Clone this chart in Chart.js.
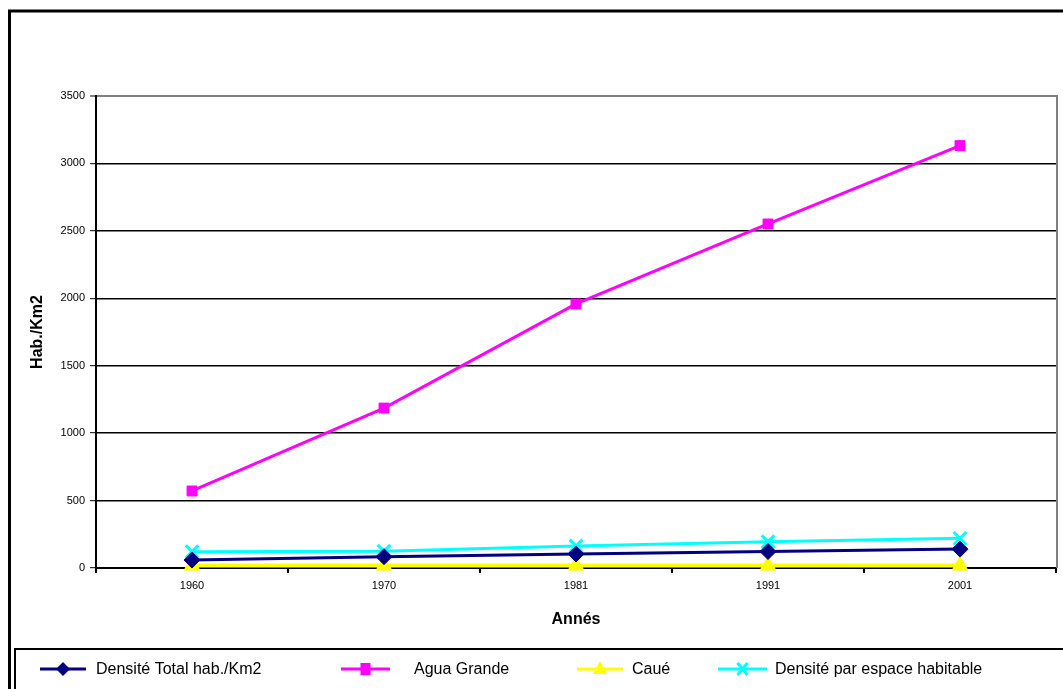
<!DOCTYPE html>
<html>
<head>
<meta charset="utf-8">
<script src="https://cdn.jsdelivr.net/npm/chart.js@4.4.1/dist/chart.umd.min.js"></script>
<style>
  html, body { margin: 0; padding: 0; background: #fff; }
  #wrap { width: 1063px; height: 689px; position: relative; }
</style>
</head>
<body>
<div id="wrap"><canvas id="c" width="1063" height="689"></canvas></div>
<script>
const years = ['1960', '1970', '1981', '1991', '2001'];
const densiteTotal = [59, 84, 104, 122, 140];
const aguaGrande = [571, 1186, 1958, 2551, 3132];
const caue = [18, 18, 18, 18, 18];
const densiteHabitable = [121, 124, 163, 195, 220];
const yTicks = [0, 500, 1000, 1500, 2000, 2500, 3000, 3500];

const FONT = '"Liberation Sans", Arial, sans-serif';

const framePlugin = {
  id: 'frame',
  beforeDraw(chart) {
    const ctx = chart.ctx;
    ctx.save();
    ctx.fillStyle = '#fff';
    ctx.fillRect(0, 0, chart.width, chart.height);
    ctx.strokeStyle = '#000';
    ctx.lineWidth = 3;
    ctx.strokeRect(9.5, 11, chart.width + 20, chart.height + 20);
    ctx.restore();
  },
  afterDraw(chart) {
    const ctx = chart.ctx;
    const a = chart.chartArea;
    ctx.save();
    ctx.strokeStyle = '#808080';
    ctx.lineWidth = 2;
    ctx.beginPath();
    ctx.moveTo(a.right + 1, a.top - 1);
    ctx.lineTo(a.right + 1, a.bottom);
    ctx.stroke();
    ctx.strokeStyle = '#000';
    ctx.lineWidth = 2;
    ctx.strokeRect(15, 649, chart.width + 20, 60);
    const items = [
      { line: [40, 86], text: 96 },
      { line: [341, 390], text: 414 },
      { line: [577, 623], text: 632 },
      { line: [718, 767], text: 775 }
    ];
    const ly = 669;
    chart.data.datasets.forEach((ds, i) => {
      const it = items[i];
      ctx.strokeStyle = ds.borderColor;
      ctx.lineWidth = 3;
      ctx.beginPath();
      ctx.moveTo(it.line[0], ly);
      ctx.lineTo(it.line[1], ly);
      ctx.stroke();
      const cx = (it.line[0] + it.line[1]) / 2;
      ctx.fillStyle = ds.pointBackgroundColor;
      ctx.strokeStyle = ds.pointBorderColor;
      ctx.lineWidth = 2;
      const st = ds.pointStyle;
      if (st === 'rectRot') {
        ctx.beginPath();
        ctx.moveTo(cx, ly - 7); ctx.lineTo(cx + 7, ly); ctx.lineTo(cx, ly + 7); ctx.lineTo(cx - 7, ly); ctx.closePath();
        ctx.fill();
      } else if (st === 'rect') {
        ctx.fillRect(cx - 5, ly - 6, 10, 12);
      } else if (st === 'triangle') {
        ctx.beginPath();
        ctx.moveTo(cx, ly - 8); ctx.lineTo(cx + 7, ly + 5); ctx.lineTo(cx - 7, ly + 5); ctx.closePath();
        ctx.fill();
      } else if (st === 'crossRot') {
        ctx.lineWidth = 3;
        ctx.beginPath();
        ctx.moveTo(cx - 5, ly - 6); ctx.lineTo(cx + 5, ly + 6);
        ctx.moveTo(cx + 5, ly - 6); ctx.lineTo(cx - 5, ly + 6);
        ctx.stroke();
      }
      ctx.fillStyle = '#000';
      ctx.font = '16px ' + FONT;
      ctx.textBaseline = 'middle';
      ctx.textAlign = 'left';
      ctx.fillText(ds.label, it.text, ly + 1);
    });
    ctx.restore();
  }
};

const mk = (label, data, color, style, radius, extra) => Object.assign({
  label, data,
  borderColor: color,
  backgroundColor: color,
  pointBackgroundColor: color,
  pointBorderColor: color,
  pointStyle: style,
  pointRadius: radius,
  pointHoverRadius: radius,
  borderWidth: 3,
  pointBorderWidth: 1,
  tension: 0,
  fill: false,
  clip: false
}, extra || {});

new Chart(document.getElementById('c'), {
  type: 'line',
  data: {
    labels: years,
    datasets: [
      mk('Densité Total hab./Km2', densiteTotal, '#000080', 'rectRot', 8),
      mk('Agua Grande', aguaGrande, '#FF00FF', 'rect', 7),
      mk('Caué', caue, '#FFFF00', 'triangle', 9, { borderWidth: 4 }),
      mk('Densité par espace habitable', densiteHabitable, '#00FFFF', 'crossRot', 9, { pointBorderWidth: 3 })
    ]
  },
  plugins: [framePlugin],
  options: {
    responsive: false,
    animation: false,
    events: [],
    layout: { autoPadding: false, padding: { left: 0, top: 96, right: 7, bottom: 57 } },
    plugins: {
      legend: { display: false },
      tooltip: { enabled: false },
      title: { display: false }
    },
    scales: {
      x: {
        type: 'category',
        offset: true,
        afterFit(s) { s.height = 64; },
        grid: { display: true, drawOnChartArea: false, offset: true, tickLength: 5, color: '#000', lineWidth: 2 },
        border: { display: true, color: '#000', width: 2 },
        ticks: { color: '#000', font: { family: FONT, size: 11 }, padding: 6, maxRotation: 0 },
        title: { display: true, text: 'Annés', color: '#000', font: { family: FONT, size: 16, weight: 'bold' }, padding: { top: 0, bottom: 3 } }
      },
      y: {
        min: 0,
        max: 3500,
        afterFit(s) { s.width = 96; },
        afterBuildTicks(s) { s.ticks = yTicks.map(v => ({ value: v })); },
        grid: {
          color: ctx => (ctx.tick && ctx.tick.value === 3500) ? '#808080' : '#000',
          lineWidth: ctx => (ctx.tick && ctx.tick.value === 3500) ? 2 : 1.4,
          tickColor: '#000',
          tickLength: 6,
          tickWidth: 1
        },
        border: { display: true, color: '#000', width: 2 },
        ticks: { color: '#000', font: { family: FONT, size: 11 }, padding: 5, callback: v => String(v) },
        title: { display: true, text: 'Hab./Km2', color: '#000', font: { family: FONT, size: 16, weight: 'bold' }, padding: { top: 28, bottom: 0 } }
      }
    }
  }
});
</script>
</body>
</html>
